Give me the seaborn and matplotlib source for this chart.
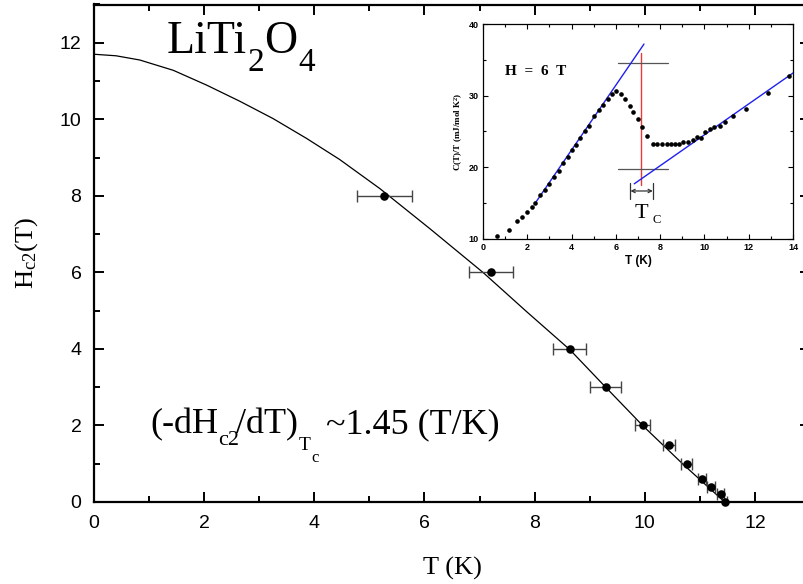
import numpy as np
import pandas as pd
import matplotlib
matplotlib.use('Agg')
import matplotlib.pyplot as plt
from matplotlib.ticker import MultipleLocator
from matplotlib.transforms import IdentityTransform
import seaborn as sns

# main panel: upper critical field
T_pts = [5.27, 7.20, 8.64, 9.29, 9.96, 10.44, 10.76, 11.04, 11.20, 11.38, 11.45]
H_pts = [8.0, 6.0, 4.0, 3.0, 2.0, 1.5, 1.0, 0.6, 0.4, 0.2, 0.0]
T_err = [0.50, 0.40, 0.30, 0.28, 0.13, 0.11, 0.10, 0.08, 0.07, 0.06, 0.05]

# fitted curve
T_fit = [0, 0.40, 0.83, 1.44, 2.05, 2.65, 3.25, 3.86, 4.46, 5.19, 6.10, 7.07,
         7.85, 8.64, 9.29, 9.96, 10.70, 11.45]
H_fit = [11.70, 11.66, 11.55, 11.28, 10.89, 10.47, 10.02, 9.50, 8.95, 8.19, 7.14,
         5.99, 4.98, 3.98, 3.00, 2.00, 0.98, 0.0]

# inset: C/T at H = 6 T
T_c = [0.65, 1.18, 1.55, 1.78, 1.99, 2.20, 2.35, 2.59, 2.79, 2.99, 3.21, 3.41,
       3.62, 3.82, 4.01, 4.21, 4.40, 4.60, 4.80, 5.02, 5.22, 5.41, 5.63, 5.84,
       6.00, 6.21, 6.41, 6.62, 6.79, 7.00, 7.19, 7.40, 7.69, 7.87, 8.10, 8.30,
       8.49, 8.67, 8.85, 9.05, 9.28, 9.47, 9.67, 9.85, 10.03, 10.23, 10.41,
       10.71, 10.93, 11.31, 11.87, 12.89, 13.80]
C_c = [10.4, 11.2, 12.5, 13.1, 13.7, 14.5, 15.0, 16.2, 16.8, 17.7, 18.7, 19.5,
       20.6, 21.5, 22.4, 23.1, 24.1, 25.0, 25.8, 27.1, 28.0, 28.7, 29.5, 30.3,
       30.6, 30.3, 29.5, 28.5, 27.7, 26.7, 25.6, 24.4, 23.3, 23.2, 23.3, 23.2,
       23.2, 23.3, 23.3, 23.5, 23.6, 23.8, 24.3, 24.1, 24.9, 25.3, 25.6,
       25.8, 26.3, 27.2, 28.2, 30.4, 32.7]
fit1_T = [2.38, 7.27]
fit1_C = [15.1, 37.2]
fit2_T = [6.83, 14.25]
fit2_C = [17.7, 33.7]
tc_T = 7.12
tc_C = [17.6, 36.0]
hline_T = [6.1, 8.35]
hline_C = [34.6, 19.7]
tc_lo, tc_hi = 6.66, 7.67
tc_bar_C = [15.6, 17.8]
tc_arrow_C = 16.7

sns.set_theme(style='ticks')
plt.rcParams['font.family'] = ['Liberation Sans', 'DejaVu Sans']
plt.rcParams['mathtext.fontset'] = 'custom'
plt.rcParams['mathtext.rm'] = 'Liberation Serif'
plt.rcParams['mathtext.it'] = 'Liberation Serif:italic'
plt.rcParams['mathtext.bf'] = 'Liberation Serif:bold'
for k in ['text.color', 'axes.labelcolor', 'xtick.color', 'ytick.color',
          'axes.edgecolor']:
    plt.rcParams[k] = 'black'

serif = ['Liberation Serif', 'DejaVu Serif']
W, H = 804, 584

fig = plt.figure(figsize=(W / 100, H / 100), dpi=100)
renderer = fig.canvas.get_renderer()


def rich_text(x, y, parts, **kw):
    # parts: (string, fontsize, baseline shift px (neg = down), gap px)
    # x, y: baseline start in px from the top-left corner
    cx = x
    for s, fs, dy, gap in parts:
        t = fig.text(cx + gap, H - y + dy, s, fontsize=fs, family=serif,
                     va='baseline', ha='left', transform=IdentityTransform(), **kw)
        cx = t.get_window_extent(renderer).x1


ax = fig.add_axes([94 / W, 82 / H, 716 / W, 497.5 / H])

df_fit = pd.DataFrame({'T': T_fit, 'H': H_fit})
sns.lineplot(data=df_fit, x='T', y='H', ax=ax, color='black', lw=0.9,
             sort=False, estimator=None)
ax.errorbar(T_pts, H_pts, xerr=T_err, fmt='none', ecolor='#444444',
            elinewidth=1.0, capsize=4.5, capthick=1.0, zorder=3)
df_pts = pd.DataFrame({'T': T_pts, 'H': H_pts})
sns.scatterplot(data=df_pts, x='T', y='H', ax=ax, color='black', s=38,
                edgecolor='black', linewidth=0, zorder=4, clip_on=False)

ax.set_xlim(0, 13)
ax.set_ylim(0, 13)
ax.xaxis.set_major_locator(MultipleLocator(2))
ax.xaxis.set_minor_locator(MultipleLocator(1))
ax.yaxis.set_major_locator(MultipleLocator(2))
ax.yaxis.set_minor_locator(MultipleLocator(1))
ax.tick_params(which='both', direction='in', top=True, right=True,
               width=1.4, labelsize=14, pad=9)
ax.tick_params(which='major', length=7)
ax.tick_params(which='minor', length=4)
for sp in ax.spines.values():
    sp.set_linewidth(1.6)
ax.set_xlabel('T (K)', fontsize=19, family=serif, labelpad=18)
ax.set_ylabel(r'H$_{\rm c2}$(T)', fontsize=19, family=serif, labelpad=14)

rich_text(167, 53, [('LiTi', 33, 0, 0), ('2', 24, -18, 0),
                    ('O', 33, 0, 0), ('4', 24, -18, 1)])
rich_text(150, 433, [('(-dH', 26, 0, 0), ('c2', 16, -12, 0),
                     ('/dT)', 26, 0, -3), ('T', 14, -17, 1),
                     ('c', 12, -29, 0), ('~1.45 (T/K)', 26, 0, 8)])

# inset
ins = fig.add_axes([483 / W, (H - 239) / H, 310 / W, 215 / H])
ins.set_facecolor('white')
ins.plot(fit1_T, fit1_C, color='#2020ee', lw=1.0, zorder=3)
ins.plot(fit2_T, fit2_C, color='#2020ee', lw=1.0, zorder=3)
ins.plot([tc_T, tc_T], tc_C, color='#e83a3a', lw=1.0)
for c in hline_C:
    ins.plot(hline_T, [c, c], color='#555555', lw=0.9)
for t in [tc_lo, tc_hi]:
    ins.plot([t, t], tc_bar_C, color='#333333', lw=0.9)
ins.annotate('', xy=(tc_lo, tc_arrow_C), xytext=(tc_hi, tc_arrow_C),
             arrowprops=dict(arrowstyle='<->', color='#333333', lw=0.9,
                             shrinkA=0, shrinkB=0, mutation_scale=6))
df_c = pd.DataFrame({'T': T_c, 'C': C_c})
sns.scatterplot(data=df_c, x='T', y='C', ax=ins, color='black', s=11,
                linewidth=0, zorder=4)
ins.set_xlim(0, 14)
ins.set_ylim(10, 40)
ins.xaxis.set_major_locator(MultipleLocator(2))
ins.xaxis.set_minor_locator(MultipleLocator(1))
ins.yaxis.set_major_locator(MultipleLocator(10))
ins.yaxis.set_minor_locator(MultipleLocator(5))
ins.tick_params(which='both', direction='in', top=True, right=True,
                width=0.8, labelsize=6.5, pad=3)
ins.tick_params(which='major', length=3.5)
ins.tick_params(which='minor', length=2)
for lab in ins.get_xticklabels() + ins.get_yticklabels():
    lab.set_fontweight('bold')
for sp in ins.spines.values():
    sp.set_linewidth(0.9)
ins.set_xlabel('T (K)', fontsize=8.5, fontweight='bold', labelpad=2)
ins.set_ylabel(r'C(T)/T (mJ/mol K$^{\bf 2}$)', fontsize=6.5, fontweight='bold',
               family=serif, labelpad=3)
ins.text(0.98, 32.9, 'H  =  6  T', fontsize=11, fontweight='bold', family=serif,
         va='baseline')
rich_text(635, 218, [('T', 16, 0, 0), ('C', 9, -5, 4)])

fig.savefig('out.png', dpi=100)
